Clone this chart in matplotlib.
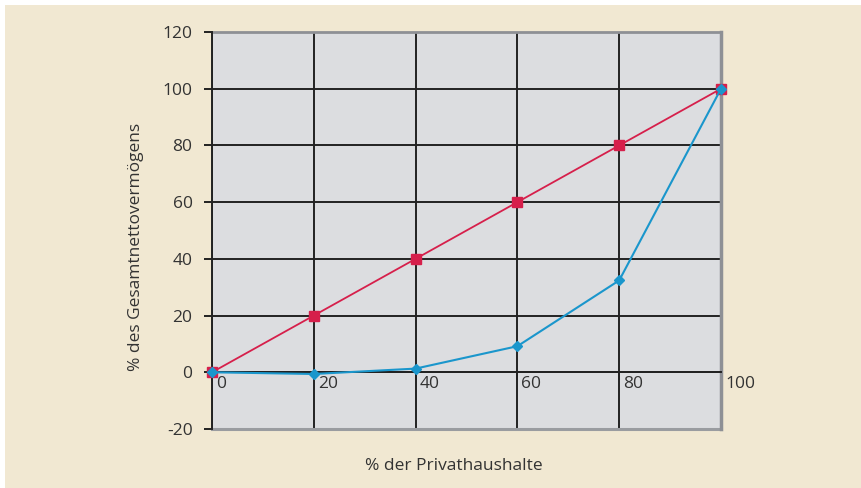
import matplotlib.pyplot as plt
import matplotlib.transforms as mtransforms
from matplotlib.patches import Rectangle

plt.rcParams['font.family'] = ['Open Sans', 'DejaVu Sans']
plt.rcParams['axes.unicode_minus'] = False

# Data
haushalte = [0, 20, 40, 60, 80, 100]
gleichverteilung = [0, 20, 40, 60, 80, 100]
vermoegen = [0, -0.6, 1.3, 9.2, 32.4, 100]
y_ticks = [-20, 0, 20, 40, 60, 80, 100, 120]
x_ticks = [0, 20, 40, 60, 80, 100]

fig = plt.figure(figsize=(8.62, 4.88), dpi=100, facecolor='white')
fig.patches.append(Rectangle((5 / 862, 0), 1, 1 - 5 / 488, transform=fig.transFigure,
                             facecolor='#f1e8d2', edgecolor='none', zorder=-10))

ax = fig.add_axes([212 / 862, 1 - 429 / 488, 509 / 862, 397 / 488])
ax.set_zorder(2)
ax.set_facecolor('#dcdde0')
ax.set_xlim(0, 100)
ax.set_ylim(-20, 120)

ax.set_yticks(y_ticks)
ax.set_xticks(x_ticks)
ax.grid(True, color='#222222', linewidth=1.4)
ax.set_axisbelow(True)

frame = '#8e9095'
ax.spines['bottom'].set_position(('data', 0))
ax.spines['bottom'].set_color('#222222')
ax.spines['bottom'].set_linewidth(1.4)
ax.spines['left'].set_color('#222222')
ax.spines['left'].set_linewidth(1.4)
ax.spines['left'].set_zorder(3)
ax.spines['top'].set_color(frame)
ax.spines['top'].set_linewidth(2.0)
ax.spines['right'].set_color(frame)
ax.spines['right'].set_linewidth(2.5)
# grey frame at bottom of plot area
ax.axhline(-20, color='#9a9ca0', linewidth=2.2, zorder=2, clip_on=False)

ax.tick_params(axis='y', direction='out', length=6, width=1.4, color='#222222',
               labelsize=12.5, labelcolor='#333333', pad=8)
ax.tick_params(axis='x', direction='out', length=6, width=1.4, color='#222222',
               labelsize=12.5, labelcolor='#333333', pad=-3)
# x labels sit just right of their gridline
shift = mtransforms.ScaledTranslation(4 / 100, 0, fig.dpi_scale_trans)
for lbl in ax.get_xticklabels():
    lbl.set_horizontalalignment('left')
    lbl.set_transform(lbl.get_transform() + shift)

ax.plot(haushalte, gleichverteilung, color='#d61f4b', linewidth=1.3,
        marker='s', markersize=7, zorder=4, clip_on=False)
ax.plot(haushalte, vermoegen, color='#1a96cc', linewidth=1.5,
        marker='D', markersize=5, zorder=4, clip_on=False)

ax.set_ylabel('% des Gesamtnettovermögens', fontsize=12.5, color='#333333')
ax.yaxis.set_label_coords(-0.133, 0.458)
fig.text(454 / 862, 1 - 466 / 488, '% der Privathaushalte', fontsize=12.5,
         color='#333333', ha='center', va='center')

fig.savefig('out.png', dpi=100, facecolor=fig.get_facecolor())
